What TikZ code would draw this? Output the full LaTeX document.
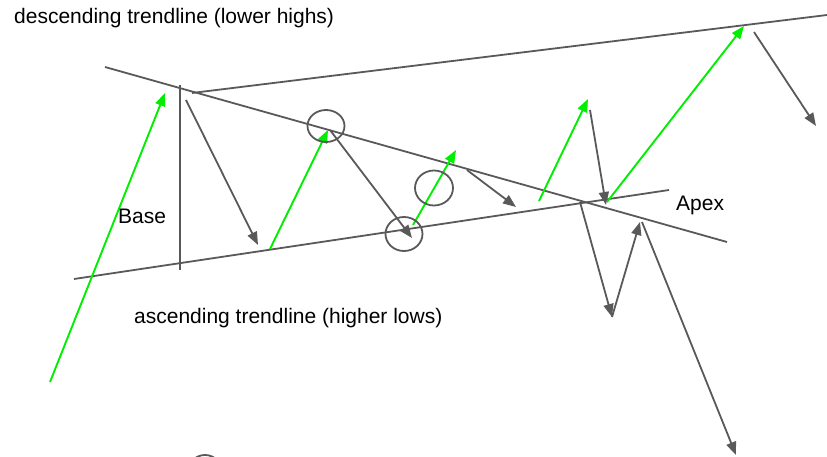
\documentclass[tikz,border=0pt]{standalone}
\usepackage{fontspec}
\setmainfont{Liberation Sans}
\usetikzlibrary{arrows.meta}
\definecolor{LineGray}{RGB}{89,89,89}
\definecolor{MoveGreen}{RGB}{0,238,0}

\begin{document}
\begin{tikzpicture}[x=1pt,y=-1pt,
  trend/.style={draw=LineGray,line width=1.8pt},
  fallarr/.style={-{Triangle[length=13pt,width=10pt]},color=LineGray,line width=1.8pt},
  risearr/.style={-{Triangle[length=13pt,width=10pt]},color=MoveGreen,line width=1.9pt},
  ring/.style={draw=LineGray,line width=1.8pt},
  lbl/.style={anchor=base west,inner sep=0pt,font=\fontsize{21}{25}\selectfont},
]
\useasboundingbox (0,0) rectangle (827,457);
% trendlines
\coordinate (descA) at (105,67);   \coordinate (descB) at (727,242);
\coordinate (ascA) at (74,279);    \coordinate (ascB) at (669,190);
\coordinate (topA) at (192,93);    \coordinate (topB) at (827,15);
\coordinate (baseA) at (180,85);   \coordinate (baseB) at (180,270);
\draw[trend] (descA) -- (descB);
\draw[trend] (ascA) -- (ascB);
\draw[trend] (topA) -- (topB);
\draw[trend] (baseA) -- (baseB);
% price swings
\coordinate (g1s) at (50,382);  \coordinate (g1e) at (165,93);
\coordinate (f1s) at (186,100); \coordinate (f1e) at (258,245);
\coordinate (g2s) at (270,249); \coordinate (g2e) at (328,130);
\coordinate (f2s) at (330,130); \coordinate (f2e) at (412,238);
\coordinate (g3s) at (413,225); \coordinate (g3e) at (456,150);
\coordinate (f3s) at (467,170); \coordinate (f3e) at (516,207);
\coordinate (g4s) at (539,201); \coordinate (g4e) at (588,99);
\coordinate (f4s) at (590,110); \coordinate (f4e) at (606,205);
\coordinate (g5s) at (607,202); \coordinate (g5e) at (744,26);
\coordinate (f5s) at (754,32);  \coordinate (f5e) at (816,126);
\coordinate (f6s) at (580,202); \coordinate (f6e) at (612,317);
\coordinate (f7e) at (640,222);
\coordinate (f8s) at (642,222); \coordinate (f8e) at (736,455);
\draw[risearr] (g1s) -- (g1e);
\draw[fallarr] (f1s) -- (f1e);
\draw[risearr] (g2s) -- (g2e);
\draw[fallarr] (f2s) -- (f2e);
\draw[risearr] (g3s) -- (g3e);
\draw[fallarr] (f3s) -- (f3e);
\draw[risearr] (g4s) -- (g4e);
\draw[fallarr] (f4s) -- (f4e);
\draw[risearr] (g5s) -- (g5e);
\draw[fallarr] (f5s) -- (f5e);
\draw[fallarr] (f6s) -- (f6e);
\draw[fallarr] (f6e) -- (f7e);
\draw[fallarr] (f8s) -- (f8e);
% touch points
\draw[ring] (326,126) ellipse [x radius=18.5,y radius=16];
\draw[ring] (434,188) ellipse [x radius=19,y radius=17.5];
\draw[ring] (404,234) ellipse [x radius=18.5,y radius=17];
\draw[ring] (205,472) circle [radius=17];
\node[lbl] (desclbl) at (14,24) {descending trendline (lower highs)};
\node[lbl] (baselbl) at (118,223) {Base};
\node[lbl] (apexlbl) at (676,211) {Apex};
\node[lbl] (asclbl) at (134,323) {ascending trendline (higher lows)};
\end{tikzpicture}
\end{document}
